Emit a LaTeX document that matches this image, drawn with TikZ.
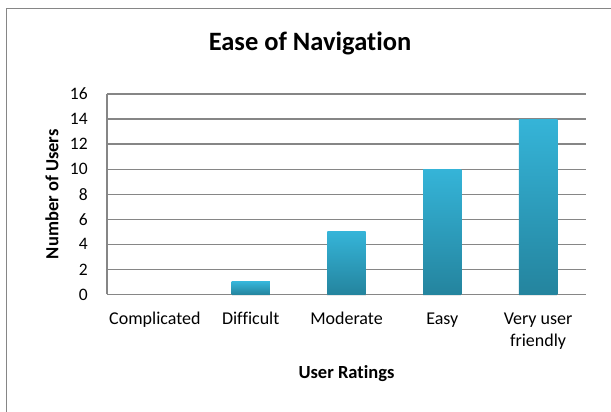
\documentclass[tikz,border=0pt]{standalone}
\usepackage{fontspec}
\setmainfont{Carlito}[Ligatures={NoCommon}]
\usetikzlibrary{shadows}
\definecolor{barlight}{RGB}{53,180,216}
\definecolor{bardark}{RGB}{36,132,158}
\definecolor{gridgray}{RGB}{134,134,134}
\begin{document}
\begin{tikzpicture}[x=1pt,y=1pt]
        \tikzstyle{grid}=[draw=gridgray,line width=1.3pt]
        \tikzstyle{bar}=[top color=barlight,bottom color=bardark,drop shadow={opacity=0.18,shadow xshift=0pt,shadow yshift=-1.5pt}]
        \tikzstyle{tick}=[anchor=east,inner sep=0pt,font=\fontsize{17.5}{21}\selectfont]
        \tikzstyle{cat}=[anchor=base,inner sep=0pt,align=center,font=\fontsize{18}{22}\selectfont]
        \tikzstyle{axistitle}=[inner sep=0pt,font=\fontsize{18.5}{22}\selectfont\bfseries]
        \useasboundingbox (0,0) rectangle (611,412);
        \fill[white] (0,0) rectangle (611,412);
        % frame of the chart
        \draw[gridgray,line width=1.8pt] (6.5,-5) -- (6.5,403.5) -- (620,403.5);
        \node [anchor=base,inner sep=0pt,font=\fontsize{26.5}{30}\selectfont\bfseries] (title) at (310,361) {Ease of Navigation};
       \begin{scope}[shift={(107pt,117.5pt)},x=95.8pt,y=12.53pt]
         \draw[grid] (0,0) -- (5,0);
         \draw[grid] (0,2) -- (5,2);
         \draw[grid] (0,4) -- (5,4);
         \draw[grid] (0,6) -- (5,6);
         \draw[grid] (0,8) -- (5,8);
         \draw[grid] (0,10) -- (5,10);
         \draw[grid] (0,12) -- (5,12);
         \draw[grid] (0,14) -- (5,14);
         \draw[grid] (0,16) -- (5,16);
         \draw[grid] (0,0) -- (0,16);
         \node [tick] (y0) at (-0.2,0) {0};
         \node [tick] (y2) at (-0.2,2) {2};
         \node [tick] (y4) at (-0.2,4) {4};
         \node [tick] (y6) at (-0.2,6) {6};
         \node [tick] (y8) at (-0.2,8) {8};
         \node [tick] (y10) at (-0.2,10) {10};
         \node [tick] (y12) at (-0.2,12) {12};
         \node [tick] (y14) at (-0.2,14) {14};
         \node [tick] (y16) at (-0.2,16) {16};
         % bars
         \shade[bar] (1.3,0) rectangle (1.7,1);
         \shade[bar] (2.3,0) rectangle (2.7,5);
         \shade[bar] (3.3,0) rectangle (3.7,10);
         \shade[bar] (4.3,0) rectangle (4.7,14);
         \node [cat] (complicated) at (0.5,-2.43) {Complicated};
         \node [cat] (difficult) at (1.5,-2.43) {Difficult};
         \node [cat] (moderate) at (2.5,-2.43) {Moderate};
         \node [cat] (easy) at (3.5,-2.43) {Easy};
         % base of a two line node is its last line
         \node [cat] (friendly) at (4.5,-4.19) {Very user\\friendly};
         \node [axistitle,anchor=base] (xtitle) at (2.5,-6.67) {User Ratings};
         \node [axistitle,rotate=90] (ytitle) at (-0.575,8) {Number of Users};
        \end{scope}
      \end{tikzpicture}
\end{document}
